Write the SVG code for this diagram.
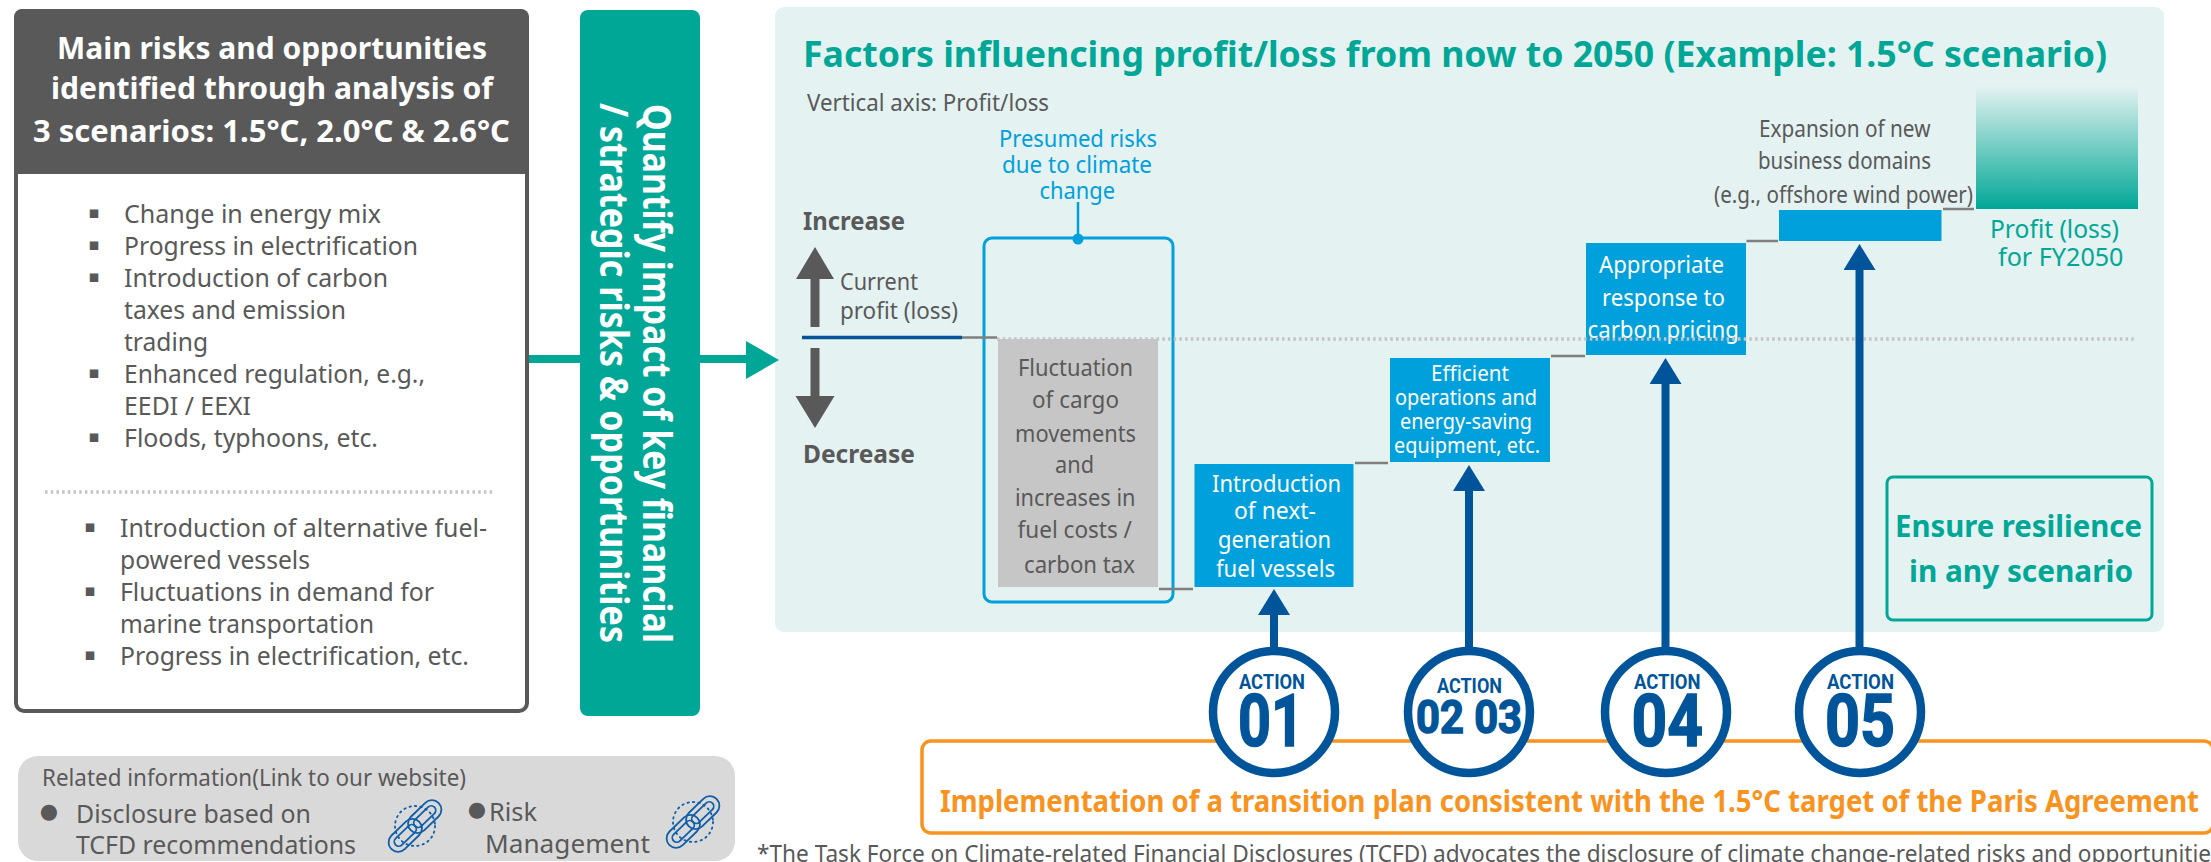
<svg xmlns="http://www.w3.org/2000/svg" xmlns:xlink="http://www.w3.org/1999/xlink" width="2211" height="862" viewBox="0 0 2211 862">
<style>
text{font-family:"Noto Sans","Open Sans","Liberation Sans",sans-serif;fill:#595959}
.b{font-weight:700}
.w{fill:#fff}
.c{fill:#00a0dc}
.g{fill:#00a796}
.o{fill:#f7931e}
.s26{font-size:26px}.s25{font-size:25px}.s24{font-size:24px}.s23{font-size:23px}.s21{font-size:21px}
.sq{font-family:"DejaVu Sans",sans-serif;font-size:17px;fill:#595959;transform:translateY(-5px)}
.dot{font-family:"DejaVu Sans",sans-serif;font-size:21px;fill:#595959}
.blue{fill:#00a0dc}
.conn{stroke:#7f7f7f;stroke-width:2.5;fill:none}
.up{stroke:#00559a;stroke-width:8;fill:none;marker-end:url(#ah)}
.ring{fill:#fff;stroke:#00559a;stroke-width:8.5}
.act{font-family:Roboto,"Liberation Sans",sans-serif;font-weight:700;fill:#00559a}
.num{stroke:#00559a;stroke-width:1.5}
.dotted{stroke:#c4c4c4;stroke-width:3.5;fill:none;stroke-dasharray:2.5 3.2}
.chain rect{fill:none;stroke:#0f5ea8;stroke-width:1.8}
</style>
<defs>
<marker id="ah" markerUnits="userSpaceOnUse" markerWidth="28" markerHeight="32" refX="0" refY="16" orient="auto"><path d="M0,0L26,16L0,32Z" fill="#00559a"/></marker>
<linearGradient id="gr" x1="0" y1="0" x2="0" y2="1"><stop offset="0" stop-color="#00a796" stop-opacity="0"/><stop offset="1" stop-color="#00a796"/></linearGradient>
<g id="chain" class="chain">
<circle cx="0" cy="0" r="20" fill="none" stroke="#0f5ea8" stroke-width="1.8" stroke-dasharray="1.5 4" stroke-linecap="round"/>
<g transform="rotate(-44)">
<rect x="-33" y="-9.500" width="39" height="19" rx="9.500"/><rect x="-27" y="-4.500" width="27" height="9" rx="4.500"/>
<rect x="-6" y="-9.500" width="39" height="19" rx="9.500"/><rect x="0" y="-4.500" width="27" height="9" rx="4.500"/>
</g>
</g>
</defs>
<rect width="2211" height="862" fill="#fff"/>

<g id="panel-bg"><rect x="775" y="7" width="1389" height="625" rx="9" fill="#e4f2f1"/></g>

<g id="connectors-main">
<path d="M529,359H748" stroke="#00a796" stroke-width="8" fill="none"/>
<path d="M746,341L779,360L746,379Z" fill="#00a796"/>
</g>

<g id="risks-panel">
<rect x="16" y="11" width="511" height="700" rx="8" fill="#fff" stroke="#595959" stroke-width="4"/>
<path d="M14,174V17a8,8 0 0 1 8-8H521a8,8 0 0 1 8,8V174Z" fill="#595959"/>
<text class="b w" font-size="31" x="57" y="59" textLength="430" lengthAdjust="spacingAndGlyphs">Main risks and opportunities</text>
<text class="b w" font-size="31" x="51" y="99" textLength="442" lengthAdjust="spacingAndGlyphs">identified through analysis of</text>
<text class="b w" font-size="31" x="33" y="142" textLength="477" lengthAdjust="spacingAndGlyphs">3 scenarios: 1.5°C, 2.0°C &amp; 2.6°C</text>
<g class="list">
<text class="sq" x="94" y="223" text-anchor="middle">▪</text><text class="s26" x="124" y="223" textLength="257" lengthAdjust="spacingAndGlyphs">Change in energy mix</text>
<text class="sq" x="94" y="255" text-anchor="middle">▪</text><text class="s26" x="124" y="255" textLength="294" lengthAdjust="spacingAndGlyphs">Progress in electrification</text>
<text class="sq" x="94" y="287" text-anchor="middle">▪</text><text class="s26" x="124" y="287" textLength="264" lengthAdjust="spacingAndGlyphs">Introduction of carbon</text>
<text class="s26" x="124" y="319" textLength="222" lengthAdjust="spacingAndGlyphs">taxes and emission</text>
<text class="s26" x="124" y="351" textLength="84" lengthAdjust="spacingAndGlyphs">trading</text>
<text class="sq" x="94" y="383" text-anchor="middle">▪</text><text class="s26" x="124" y="383" textLength="301" lengthAdjust="spacingAndGlyphs">Enhanced regulation, e.g.,</text>
<text class="s26" x="124" y="415" textLength="127" lengthAdjust="spacingAndGlyphs">EEDI / EEXI</text>
<text class="sq" x="94" y="447" text-anchor="middle">▪</text><text class="s26" x="124" y="447" textLength="254" lengthAdjust="spacingAndGlyphs">Floods, typhoons, etc.</text>
</g>
<path class="dotted" d="M45,492H495"/>
<g class="list">
<text class="sq" x="90" y="537" text-anchor="middle">▪</text><text class="s26" x="120" y="537" textLength="367" lengthAdjust="spacingAndGlyphs">Introduction of alternative fuel-</text>
<text class="s26" x="120" y="569" textLength="190" lengthAdjust="spacingAndGlyphs">powered vessels</text>
<text class="sq" x="90" y="601" text-anchor="middle">▪</text><text class="s26" x="120" y="601" textLength="314" lengthAdjust="spacingAndGlyphs">Fluctuations in demand for</text>
<text class="s26" x="120" y="633" textLength="254" lengthAdjust="spacingAndGlyphs">marine transportation</text>
<text class="sq" x="90" y="665" text-anchor="middle">▪</text><text class="s26" x="120" y="665" textLength="349" lengthAdjust="spacingAndGlyphs">Progress in electrification, etc.</text>
</g>
</g>

<g id="quantify-bar">
<rect x="580" y="10" width="120" height="706" rx="8" fill="#00a796"/>
<text class="b w" font-size="39" transform="translate(643,104) rotate(90)" textLength="539" lengthAdjust="spacingAndGlyphs">Quantify impact of key financial</text>
<text class="b w" font-size="39" transform="translate(600,103) rotate(90)" textLength="540" lengthAdjust="spacingAndGlyphs">/ strategic risks &amp; opportunities</text>
</g>

<g id="related-info">
<rect x="18" y="756" width="717" height="105" rx="20" fill="#d9d9d9"/>
<text class="s24" x="42" y="786" textLength="424" lengthAdjust="spacingAndGlyphs">Related information(Link to our website)</text>
<text class="dot" x="49" y="818" text-anchor="middle">●</text>
<text class="s26" x="76" y="823" textLength="235" lengthAdjust="spacingAndGlyphs">Disclosure based on</text>
<text class="s26" x="76" y="854" textLength="280" lengthAdjust="spacingAndGlyphs">TCFD recommendations</text>
<use href="#chain" x="415" y="826"/>
<text class="dot" x="477" y="816" text-anchor="middle">●</text>
<text class="s26" x="489" y="821" textLength="48" lengthAdjust="spacingAndGlyphs">Risk</text>
<text class="s26" x="485" y="853" textLength="165" lengthAdjust="spacingAndGlyphs">Management</text>
<use href="#chain" x="693" y="822"/>
</g>

<g id="panel-head">
<text class="b g" font-size="36" x="803" y="67" textLength="1304" lengthAdjust="spacingAndGlyphs">Factors influencing profit/loss from now to 2050 (Example: 1.5°C scenario)</text>
<text class="s23" x="807" y="111" textLength="242" lengthAdjust="spacingAndGlyphs">Vertical axis: Profit/loss</text>
</g>

<g id="axis">
<text class="b s25" x="803" y="230" textLength="102" lengthAdjust="spacingAndGlyphs">Increase</text>
<text class="b s25" x="803" y="463" textLength="112" lengthAdjust="spacingAndGlyphs">Decrease</text>
<path d="M815,247L834,279H819.500V327H810.500V279H796Z" fill="#595959"/>
<path d="M815,428L834.500,396H819.500V348H810.500V396H795.500Z" fill="#595959"/>
<text class="s23" x="840" y="290" textLength="78" lengthAdjust="spacingAndGlyphs">Current</text>
<text class="s23" x="840" y="319" textLength="118" lengthAdjust="spacingAndGlyphs">profit (loss)</text>
<path d="M802,337.500H962" stroke="#00559a" stroke-width="3.500" fill="none"/>
</g>

<g id="risk-box">
<text class="c s23" x="999" y="147" textLength="158" lengthAdjust="spacingAndGlyphs">Presumed risks</text>
<text class="c s23" x="1002" y="173" textLength="150" lengthAdjust="spacingAndGlyphs">due to climate</text>
<text class="c s23" x="1039.500" y="199" textLength="75.500" lengthAdjust="spacingAndGlyphs">change</text>
<path d="M1078,202V238" stroke="#00a0dc" stroke-width="2.500" fill="none"/>
<circle cx="1078" cy="239" r="5.500" fill="#00a0dc"/>
<rect x="984" y="238" width="189" height="364" rx="8" fill="none" stroke="#00a0dc" stroke-width="3"/>
</g>

<g id="fluctuation">
<rect x="998" y="339" width="160" height="248" fill="#c6c6c6"/>
<text class="s24" x="1018" y="376" textLength="115" lengthAdjust="spacingAndGlyphs">Fluctuation</text>
<text class="s24" x="1032" y="408" textLength="87" lengthAdjust="spacingAndGlyphs">of cargo</text>
<text class="s24" x="1015" y="442" textLength="121" lengthAdjust="spacingAndGlyphs">movements</text>
<text class="s24" x="1055" y="473" textLength="39" lengthAdjust="spacingAndGlyphs">and</text>
<text class="s24" x="1015" y="506" textLength="120.500" lengthAdjust="spacingAndGlyphs">increases in</text>
<text class="s24" x="1017.500" y="538" textLength="114.500" lengthAdjust="spacingAndGlyphs">fuel costs /</text>
<text class="s24" x="1024" y="573" textLength="111" lengthAdjust="spacingAndGlyphs">carbon tax</text>
</g>

<g id="next-gen">
<rect class="blue" x="1194.500" y="464" width="159" height="123"/>
<text class="s24 w" x="1212" y="492" textLength="129" lengthAdjust="spacingAndGlyphs">Introduction</text>
<text class="s24 w" x="1234" y="519" textLength="82" lengthAdjust="spacingAndGlyphs">of next-</text>
<text class="s24 w" x="1218" y="548" textLength="113" lengthAdjust="spacingAndGlyphs">generation</text>
<text class="s24 w" x="1216" y="577" textLength="119" lengthAdjust="spacingAndGlyphs">fuel vessels</text>
</g>

<g id="efficient">
<rect class="blue" x="1390" y="358" width="160" height="104"/>
<text class="s21 w" x="1431" y="381" textLength="78" lengthAdjust="spacingAndGlyphs">Efficient</text>
<text class="s21 w" x="1395" y="405" textLength="142" lengthAdjust="spacingAndGlyphs">operations and</text>
<text class="s21 w" x="1400" y="429" textLength="132" lengthAdjust="spacingAndGlyphs">energy-saving</text>
<text class="s21 w" x="1394" y="453" textLength="146" lengthAdjust="spacingAndGlyphs">equipment, etc.</text>
</g>

<g id="carbon">
<rect class="blue" x="1586" y="243" width="160" height="112"/>
<text class="s24 w" x="1599" y="273" textLength="125" lengthAdjust="spacingAndGlyphs">Appropriate</text>
<text class="s24 w" x="1602" y="306" textLength="123" lengthAdjust="spacingAndGlyphs">response to</text>
<text class="s24 w" x="1587.500" y="338" textLength="151.500" lengthAdjust="spacingAndGlyphs">carbon pricing</text>
</g>

<g id="new-business">
<text class="s23" x="1759" y="137" textLength="171.500" lengthAdjust="spacingAndGlyphs">Expansion of new</text>
<text class="s23" x="1758" y="169" textLength="173" lengthAdjust="spacingAndGlyphs">business domains</text>
<text class="s23" x="1714" y="203" textLength="259" lengthAdjust="spacingAndGlyphs">(e.g., offshore wind power)</text>
<rect class="blue" x="1779" y="210" width="162.500" height="31"/>
</g>

<g id="profit-2050">
<rect x="1976" y="86" width="162" height="123" fill="url(#gr)"/>
<text class="g" font-size="25" x="1990" y="238" textLength="129" lengthAdjust="spacingAndGlyphs">Profit (loss)</text>
<text class="g" font-size="25" x="1998" y="266" textLength="125.500" lengthAdjust="spacingAndGlyphs">for FY2050</text>
</g>

<g id="resilience">
<rect x="1887" y="477" width="265" height="143" rx="6" fill="none" stroke="#00a796" stroke-width="3"/>
<text class="b g" font-size="31" x="1895" y="537" textLength="247" lengthAdjust="spacingAndGlyphs">Ensure resilience</text>
<text class="b g" font-size="31" x="1909" y="582" textLength="224" lengthAdjust="spacingAndGlyphs">in any scenario</text>
</g>

<g id="transition-plan">
<rect x="922" y="741" width="1291" height="92" rx="9" fill="#fff" stroke="#f7931e" stroke-width="3.500"/>
<text class="b o" font-size="30" x="940" y="812" textLength="1259" lengthAdjust="spacingAndGlyphs">Implementation of a transition plan consistent with the 1.5°C target of the Paris Agreement</text>
</g>

<g id="connectors">
<path class="dotted" d="M997,339H2135"/>
<path class="conn" d="M962,337.500H997M1159,589H1193M1355,463H1388M1551,356H1585M1746.500,241H1778M1943,209H1974"/>
<path class="up" d="M1274,650V615"/>
<path class="up" d="M1469,650V491"/>
<path class="up" d="M1665.500,650V384"/>
<path class="up" d="M1859.500,650V270"/>
</g>

<g id="action-01">
<circle class="ring" cx="1274" cy="712" r="61"/>
<text class="act" font-size="20" x="1239" y="689" textLength="66" lengthAdjust="spacingAndGlyphs">ACTION</text>
<text class="act num" font-size="72" x="1238" y="746" textLength="66" lengthAdjust="spacingAndGlyphs">01</text>
</g>
<g id="action-02-03">
<circle class="ring" cx="1469" cy="712" r="61"/>
<text class="act" font-size="20" x="1437" y="693" textLength="65" lengthAdjust="spacingAndGlyphs">ACTION</text>
<text class="act num" font-size="47" x="1416" y="733" textLength="106" lengthAdjust="spacingAndGlyphs">02 03</text>
</g>
<g id="action-04">
<circle class="ring" cx="1666" cy="712" r="61"/>
<text class="act" font-size="20" x="1634" y="689" textLength="66.500" lengthAdjust="spacingAndGlyphs">ACTION</text>
<text class="act num" font-size="72" x="1631.500" y="746" textLength="71.500" lengthAdjust="spacingAndGlyphs">04</text>
</g>
<g id="action-05">
<circle class="ring" cx="1860" cy="712" r="61"/>
<text class="act" font-size="20" x="1827" y="689" textLength="67" lengthAdjust="spacingAndGlyphs">ACTION</text>
<text class="act num" font-size="72" x="1825" y="746" textLength="70" lengthAdjust="spacingAndGlyphs">05</text>
</g>

<g id="footnote">
<text class="s23" x="757" y="862" textLength="1454" lengthAdjust="spacingAndGlyphs">*The Task Force on Climate-related Financial Disclosures (TCFD) advocates the disclosure of climate change-related risks and opportunitie</text>
</g>
</svg>
